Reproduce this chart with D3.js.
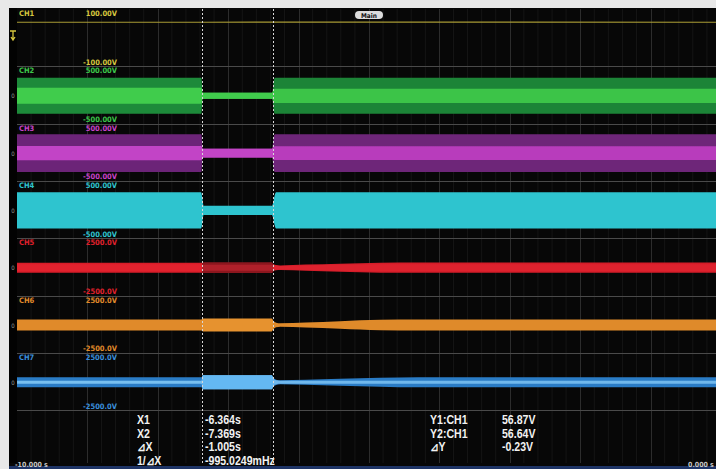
<!DOCTYPE html>
<html>
<head>
<meta charset="utf-8">
<script src="https://cdn.jsdelivr.net/npm/d3@7"></script>
<style>
  html, body { margin: 0; padding: 0; background: #e8e8e8; }
  svg { display: block; }
</style>
</head>
<body>
<svg id="scope" width="716" height="469"></svg>
<script>
// ---------- recorder settings ----------
const channelNames = ["CH1", "CH2", "CH3", "CH4", "CH5", "CH6", "CH7"];
const channelColors = ["#d6c63e", "#3cc64a", "#c842c8", "#2fc4cf", "#e0202c", "#e08a2a", "#3a8edc"];
const rangeTopLabels = ["100.00V", "500.00V", "500.00V", "500.00V", "2500.0V", "2500.0V", "2500.0V"];
const rangeBottomLabels = ["-100.00V", "-500.00V", "-500.00V", "-500.00V", "-2500.0V", "-2500.0V", "-2500.0V"];
const fullScaleVolts = [100, 500, 500, 500, 2500, 2500, 2500];

const timeDomain = [-10, 0];
const timeAxisLabels = ["-10.000 s", "0.000 s"];
const cursorTimes = [-6.364, -7.369];          // X1, X2
const readoutLabels = ["X1", "X2", "\u22BFX", "1/\u22BFX"];
const readoutValues = ["-6.364s", "-7.369s", "-1.005s", "-995.0249mHz"];
const levelLabels = ["Y1:CH1", "Y2:CH1", "\u22BFY"];
const levelValues = ["56.87V", "56.64V", "-0.23V"];

// ---------- recorded signals (volts) ----------
const ch1Times = [-10, -7.369, -6.364, 0];
const ch1Volts = [56.72, 56.64, 56.87, 56.80];

const ch2Times = [-10, -7.38, -7.365, -6.372, -6.355, -6.335, 0];
const ch2Outer = [315, 315, 52, 52, 250, 315, 315];
const ch2Inner = [140, 140, 52, 52, 110, 125, 125];

const ch3Times = [-10, -7.38, -7.365, -6.372, -6.355, -6.335, 0];
const ch3Outer = [330, 330, 78, 78, 280, 330, 330];
const ch3Inner = [125, 125, 78, 78, 110, 120, 120];

const ch4Times = [-10, -7.385, -7.368, -7.35, -6.38, -6.36, -6.34, -6.32, 0];
const ch4Outer = [315, 315, 220, 80, 80, 140, 260, 315, 315];

const ch5Times = [-10, -7.38, -7.36, -6.38, -6.36, -6.32, -6.26, -5.9, -5.41, -4.84, -4.3, 0];
const ch5Outer = [440, 440, 470, 470, 330, 230, 200, 270, 350, 430, 445, 445];
const ch5Inner = [300, 300, 260, 260, 200, 170, 150, 200, 260, 300, 310, 310];

const ch6Times = [-10, -7.38, -7.36, -6.38, -6.36, -6.32, -6.26, -5.9, -5.41, -4.84, -4.3, 0];
const ch6Outer = [480, 480, 560, 560, 380, 200, 150, 220, 330, 460, 480, 480];

const ch7Times = [-10, -7.38, -7.36, -6.38, -6.36, -6.32, -6.26, -5.9, -5.41, -4.84, -4.3, 0];
const ch7Outer = [440, 440, 610, 610, 420, 230, 175, 220, 300, 390, 440, 440];
const ch7Inner = [130, 130, 610, 610, 300, 170, 130, 130, 130, 130, 130, 130];

// colours per segment: before X2, between cursors, after X1
const envelopeTraces = [
  { ch: 1, times: ch2Times, outer: ch2Outer, inner: ch2Inner,
    outerFill: ["#1d8a3a", "#40cc4c", "#1c8437"], innerFill: ["#40cc4c", "#40cc4c", "#3cc448"] },
  { ch: 2, times: ch3Times, outer: ch3Outer, inner: ch3Inner,
    outerFill: ["#6c2478", "#c244c6", "#6e2679"], innerFill: ["#c244c6", "#c244c6", "#b83cbc"] },
  { ch: 3, times: ch4Times, outer: ch4Outer, inner: null,
    outerFill: ["#2ec4cf", "#2ec4cf", "#2ec4cf"], innerFill: null },
  { ch: 4, times: ch5Times, outer: ch5Outer, inner: ch5Inner,
    outerFill: ["#d81c28", "#8c161e", "#d41c28"], innerFill: ["#e2222e", "#b0202a", "#de222e"] },
  { ch: 5, times: ch6Times, outer: ch6Outer, inner: null,
    outerFill: ["#e08a2a", "#e6922f", "#df8a2a"], innerFill: null },
  { ch: 6, times: ch7Times, outer: ch7Outer, inner: ch7Inner,
    outerFill: ["#2a7cc6", "#64b8f2", "#2a7cc6"], innerFill: ["#78c0f0", "#64b8f2", "#70b8ec"] }
];

// ---------- layout ----------
const svg = d3.select("#scope");
const screen = { left: 9, top: 8, right: 716, bottom: 466 };
const plotLeft = 17, plotRight = 721;
const panelTop0 = 9, panelH = 57.3, zeroOffset = 29.5, halfPx = 28.65;

const x = d3.scaleLinear().domain(timeDomain).range([plotLeft, plotRight]);
const panelTop = i => panelTop0 + i * panelH;
const yScale = i => {
  const z = panelTop(i) + zeroOffset;
  return d3.scaleLinear().domain([-fullScaleVolts[i], fullScaleVolts[i]]).range([z + halfPx, z - halfPx]);
};
const gridBottom = 463;

// screen background
svg.append("rect").attr("x", screen.left).attr("y", screen.top)
  .attr("width", screen.right - screen.left).attr("height", screen.bottom - screen.top)
  .attr("fill", "#070707");
svg.append("rect").attr("x", screen.left).attr("y", screen.top)
  .attr("width", plotLeft - screen.left).attr("height", gridBottom - screen.top)
  .attr("fill", "#020202");

// time grid
const minorTicks = d3.range(-10, 0.001, 0.2).filter(t => Math.abs(Math.round(t) - t) > 1e-6);
svg.append("g").selectAll("line").data(minorTicks).join("line")
  .attr("x1", d => x(d)).attr("x2", d => x(d)).attr("y1", panelTop0).attr("y2", gridBottom)
  .attr("stroke", "#151515").attr("stroke-width", 1);
svg.append("g").selectAll("line").data(d3.range(-9, 0, 1)).join("line")
  .attr("x1", d => Math.round(x(d)) + 0.5).attr("x2", d => Math.round(x(d)) + 0.5)
  .attr("y1", panelTop0).attr("y2", gridBottom)
  .attr("stroke", "#2c2c2c").attr("stroke-width", 1);

// panel separators
svg.append("g").selectAll("line").data(d3.range(1, 8)).join("line")
  .attr("x1", plotLeft).attr("x2", screen.right)
  .attr("y1", i => Math.round(panelTop(i)) + 0.5).attr("y2", i => Math.round(panelTop(i)) + 0.5)
  .attr("stroke", "#4a4a4a").attr("stroke-width", 1);

// gradient that switches colour at the two cursors
const defs = svg.append("defs");
const cursorFrac = [cursorTimes[1], cursorTimes[0]].map(t => (t - timeDomain[0]) / (timeDomain[1] - timeDomain[0]));
function segmentGradient(id, cols) {
  const g = defs.append("linearGradient").attr("id", id)
    .attr("gradientUnits", "userSpaceOnUse")
    .attr("x1", x(timeDomain[0])).attr("x2", x(timeDomain[1])).attr("y1", 0).attr("y2", 0);
  const stops = [[0, cols[0]], [cursorFrac[0], cols[0]], [cursorFrac[0], cols[1]],
                 [cursorFrac[1], cols[1]], [cursorFrac[1], cols[2]], [1, cols[2]]];
  g.selectAll("stop").data(stops).join("stop")
    .attr("offset", d => d[0]).attr("stop-color", d => d[1]);
  return `url(#${id})`;
}

// CH1 DC level
{
  const y1 = yScale(0);
  const line = d3.line().x(d => x(d[0])).y(d => y1(d[1]));
  svg.append("path").datum(d3.zip(ch1Times, ch1Volts))
    .attr("d", line).attr("fill", "none").attr("stroke", "#a89a34").attr("stroke-width", 1.2);
}

// envelope traces
const traceLayer = svg.append("g");
envelopeTraces.forEach(tr => {
  const ys = yScale(tr.ch);
  const pts = tr.times.map((t, k) => ({ t, o: tr.outer[k], n: tr.inner ? tr.inner[k] : 0 }));
  const outerArea = d3.area().curve(d3.curveMonotoneX)
    .x(d => x(d.t)).y0(d => ys(-d.o)).y1(d => ys(d.o));
  traceLayer.append("path").datum(pts).attr("d", outerArea)
    .attr("fill", segmentGradient("o" + tr.ch, tr.outerFill));
  if (tr.inner) {
    const innerArea = d3.area().curve(d3.curveMonotoneX)
      .x(d => x(d.t)).y0(d => ys(-d.n)).y1(d => ys(d.n));
    traceLayer.append("path").datum(pts).attr("d", innerArea)
      .attr("fill", segmentGradient("i" + tr.ch, tr.innerFill));
  }
});

// cursors
svg.append("g").selectAll("line").data(cursorTimes).join("line")
  .attr("x1", d => Math.round(x(d)) + 0.5).attr("x2", d => Math.round(x(d)) + 0.5)
  .attr("y1", panelTop0).attr("y2", gridBottom)
  .attr("stroke", "#d8d8d8").attr("stroke-width", 1).attr("stroke-dasharray", "2,2");

// channel labels
const labelFont = "'DejaVu Sans Condensed', 'DejaVu Sans', sans-serif";
const labels = svg.append("g").attr("font-family", labelFont).attr("font-weight", "bold").attr("font-size", 7.5);
channelNames.forEach((name, i) => {
  const top = panelTop(i);
  labels.append("text").attr("x", 19).attr("y", top + 7).attr("fill", channelColors[i]).text(name);
  labels.append("text").attr("x", 117).attr("y", top + 7).attr("text-anchor", "end")
    .attr("fill", channelColors[i]).text(rangeTopLabels[i]);
  labels.append("text").attr("x", 117).attr("y", top + panelH - 1.5).attr("text-anchor", "end")
    .attr("fill", channelColors[i]).text(rangeBottomLabels[i]);
  if (i > 0) {
    labels.append("text").attr("x", 13).attr("y", yScale(i)(0) + 2.5).attr("text-anchor", "middle")
      .attr("font-size", 6).attr("font-weight", "normal").attr("fill", "#9a9a9a").text("0");
  }
});
// trigger level marker
svg.append("path").attr("d", "M10,31 h6 M13,31 v9 M11,37 l2,3 l2,-3")
  .attr("stroke", "#d6c63e").attr("stroke-width", 1.3).attr("fill", "none");

// display name tag
svg.append("rect").attr("x", 355).attr("y", 11).attr("width", 28).attr("height", 8).attr("rx", 4)
  .attr("fill", "#dcdcdc");
svg.append("text").attr("x", 369).attr("y", 17.5).attr("text-anchor", "middle")
  .attr("font-family", labelFont).attr("font-weight", "bold").attr("font-size", 6.5)
  .attr("fill", "#111").text("Main");

// cursor readout, drawn in a narrow face
const readFont = "'Liberation Sans', Arial, sans-serif";
const readout = svg.append("g").attr("font-family", readFont).attr("font-size", 12)
  .attr("font-weight", "bold").attr("fill", "#f2f2f2");
const rowY = [424, 437.5, 451, 465];
const squeeze = 0.88;
function readText(px, py, t) {
  readout.append("text").attr("transform", `translate(${px},${py}) scale(${squeeze},1)`).text(t);
}
readoutLabels.forEach((t, k) => readText(137, rowY[k], t));
readoutValues.forEach((t, k) => readText(205, rowY[k], t));
levelLabels.forEach((t, k) => readText(430, rowY[k], t));
levelValues.forEach((t, k) => readText(502, rowY[k], t));

// time axis ends
svg.append("rect").attr("x", screen.left).attr("y", 466).attr("width", screen.right - screen.left)
  .attr("height", 3).attr("fill", "#1e3466");
const axisText = svg.append("g").attr("font-family", labelFont).attr("font-size", 7)
  .attr("font-weight", "bold").attr("fill", "#c8c8c8");
axisText.append("text").attr("x", 15).attr("y", 467).text(timeAxisLabels[0]);
axisText.append("text").attr("x", 688).attr("y", 467).text(timeAxisLabels[1]);
</script>
</body>
</html>
